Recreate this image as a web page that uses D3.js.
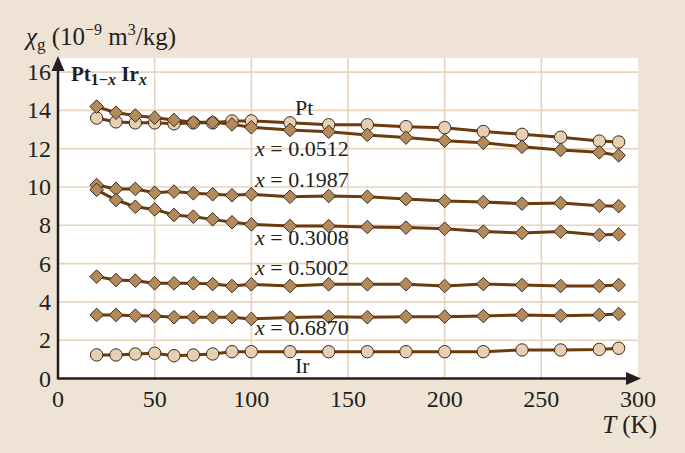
<!DOCTYPE html>
<html>
<head>
<meta charset="utf-8">
<title></title>
<script src="https://d3js.org/d3.v7.min.js"></script>
<style>
body { margin: 0; background: #efe3d6; }
text { font-family: "Liberation Serif", "DejaVu Serif", serif; fill: #231f20; }
.grid { stroke: #e8d3bc; stroke-width: 1.6px; }
.series { fill: none; stroke: #6b3b0c; stroke-width: 3px; }
.diamond { fill: #b38a5c; stroke: #3b2a1a; stroke-width: 1px; }
.dot { fill: #e6cfb2; stroke: #3b2a1a; stroke-width: 1px; }
</style>
</head>
<body>
<script>
// temperatures (K)
var temps = [20, 30, 40, 50, 60, 70, 80, 90, 100, 120, 140, 160, 180, 200, 220, 240, 260, 280, 290];

// chi_g values, 10^-9 m^3/kg
var pt     = [13.6, 13.4, 13.35, 13.35, 13.3, 13.35, 13.35, 13.45, 13.45, 13.35, 13.25, 13.25, 13.15, 13.1, 12.9, 12.75, 12.6, 12.4, 12.35];
var x0512  = [14.2, 13.88, 13.73, 13.62, 13.5, 13.38, 13.38, 13.27, 13.12, 12.98, 12.88, 12.72, 12.58, 12.42, 12.31, 12.1, 11.93, 11.81, 11.65];
var x1987  = [10.1, 9.9, 9.9, 9.7, 9.76, 9.67, 9.62, 9.57, 9.62, 9.49, 9.53, 9.49, 9.37, 9.27, 9.22, 9.13, 9.16, 9.02, 9.0];
var x3008  = [9.85, 9.32, 8.97, 8.83, 8.54, 8.45, 8.31, 8.16, 8.05, 7.96, 7.96, 7.91, 7.88, 7.82, 7.67, 7.6, 7.67, 7.49, 7.53];
var x5002  = [5.32, 5.14, 5.11, 4.97, 4.97, 4.97, 4.93, 4.83, 4.92, 4.83, 4.92, 4.92, 4.92, 4.83, 4.93, 4.88, 4.83, 4.83, 4.88];
var x6870  = [3.32, 3.32, 3.28, 3.26, 3.2, 3.2, 3.2, 3.2, 3.11, 3.18, 3.23, 3.2, 3.23, 3.23, 3.26, 3.32, 3.28, 3.32, 3.37];
var ir     = [1.23, 1.23, 1.28, 1.32, 1.19, 1.23, 1.28, 1.4, 1.4, 1.4, 1.4, 1.4, 1.4, 1.4, 1.4, 1.49, 1.49, 1.52, 1.58];

var xTicks = [0, 50, 100, 150, 200, 250, 300];
var yTicks = [0, 2, 4, 6, 8, 10, 12, 14, 16];

var series = [
  {vals: pt, mark: "dot", label: "Pt", lx: 295, ly: 115},
  {vals: x0512, mark: "diamond", label: "0.0512", lx: 255, ly: 156},
  {vals: x1987, mark: "diamond", label: "0.1987", lx: 255, ly: 187},
  {vals: x3008, mark: "diamond", label: "0.3008", lx: 255, ly: 245},
  {vals: x5002, mark: "diamond", label: "0.5002", lx: 255, ly: 275},
  {vals: x6870, mark: "diamond", label: "0.6870", lx: 255, ly: 335},
  {vals: ir, mark: "dot", label: "Ir", lx: 295, ly: 373}
];

var W = 685, H = 453;
var svg = d3.select("body").append("svg").attr("width", W).attr("height", H);

var x = d3.scaleLinear().domain([0, 300]).range([58, 638]);
var y = d3.scaleLinear().domain([0, 16]).range([378.5, 72.1]);

// plot area
svg.append("rect").attr("x", 58).attr("y", 58).attr("width", 580).attr("height", 320.5).attr("fill", "#fff");

// grid
svg.selectAll("line.gy").data(yTicks.slice(1)).enter().append("line")
  .attr("class", "grid").attr("x1", 58).attr("x2", 638)
  .attr("y1", d => y(d)).attr("y2", d => y(d));
svg.selectAll("line.gx").data(xTicks.slice(1, -1)).enter().append("line")
  .attr("class", "grid").attr("y1", 58).attr("y2", 378.5)
  .attr("x1", d => x(d)).attr("x2", d => x(d));

// series lines
var line = d3.line().x((d, i) => x(temps[i])).y(d => y(d));
series.forEach(function(s) {
  svg.append("path").attr("class", "series").attr("d", line(s.vals));
});

// markers
var dsz = 6.8;
series.forEach(function(s) {
  var g = svg.append("g");
  if (s.mark == "dot") {
    g.selectAll("circle").data(s.vals).enter().append("circle")
      .attr("class", "dot").attr("r", 6.2)
      .attr("cx", (d, i) => x(temps[i])).attr("cy", d => y(d));
  } else {
    g.selectAll("path").data(s.vals).enter().append("path")
      .attr("class", "diamond")
      .attr("d", "M0," + (-dsz) + "L" + dsz + ",0L0," + dsz + "L" + (-dsz) + ",0Z")
      .attr("transform", (d, i) => "translate(" + x(temps[i]) + "," + y(d) + ")");
  }
});

// axes
svg.append("line").attr("x1", 58).attr("x2", 632).attr("y1", 378.5).attr("y2", 378.5)
  .attr("stroke", "#231f20").attr("stroke-width", 2.5);
svg.append("path").attr("d", "M641,378.5L626,372L626,385Z").attr("fill", "#231f20");
svg.append("line").attr("x1", 58).attr("x2", 58).attr("y1", 66).attr("y2", 379.5)
  .attr("stroke", "#231f20").attr("stroke-width", 2.5);
svg.append("path").attr("d", "M58,56L51.5,71L64.5,71Z").attr("fill", "#231f20");

svg.selectAll("text.xt").data(xTicks).enter().append("text")
  .attr("x", d => x(d)).attr("y", 407).attr("text-anchor", "middle")
  .style("font-size", "24px").text(d => d);
svg.selectAll("text.yt").data(yTicks).enter().append("text")
  .attr("x", 51).attr("y", d => y(d) + 8).attr("text-anchor", "end")
  .style("font-size", "24px").text(d => d);

// axis titles
var yt = svg.append("text").attr("x", 26).attr("y", 45).style("font-size", "25px");
yt.append("tspan").style("font-style", "italic").text("χ");
yt.append("tspan").attr("dy", 5).style("font-size", "17px").text("g");
yt.append("tspan").attr("dy", -5).text(" (10");
yt.append("tspan").attr("dy", -10).style("font-size", "16px").text("−9");
yt.append("tspan").attr("dy", 10).text(" m");
yt.append("tspan").attr("dy", -10).style("font-size", "16px").text("3");
yt.append("tspan").attr("dy", 10).text("/kg)");

var xt = svg.append("text").attr("x", 657).attr("y", 433).attr("text-anchor", "end").style("font-size", "25px");
xt.append("tspan").style("font-style", "italic").text("T");
xt.append("tspan").text(" (K)");

// alloy name
var nm = svg.append("text").attr("x", 71).attr("y", 81).style("font-size", "21px").style("font-weight", "bold");
nm.append("tspan").text("Pt");
nm.append("tspan").attr("dy", 4).style("font-size", "16px").text("1−");
nm.append("tspan").style("font-size", "16px").style("font-style", "italic").text("x");
nm.append("tspan").attr("dy", -4).text(" Ir");
nm.append("tspan").attr("dy", 4).style("font-size", "16px").style("font-style", "italic").text("x");

// series labels
series.forEach(function(s) {
  var t = svg.append("text").attr("x", s.lx).attr("y", s.ly).style("font-size", "22px");
  if (s.label == "Pt" || s.label == "Ir") {
    t.text(s.label);
  } else {
    t.append("tspan").style("font-style", "italic").text("x");
    t.append("tspan").text(" = " + s.label);
  }
});
</script>
</body>
</html>
